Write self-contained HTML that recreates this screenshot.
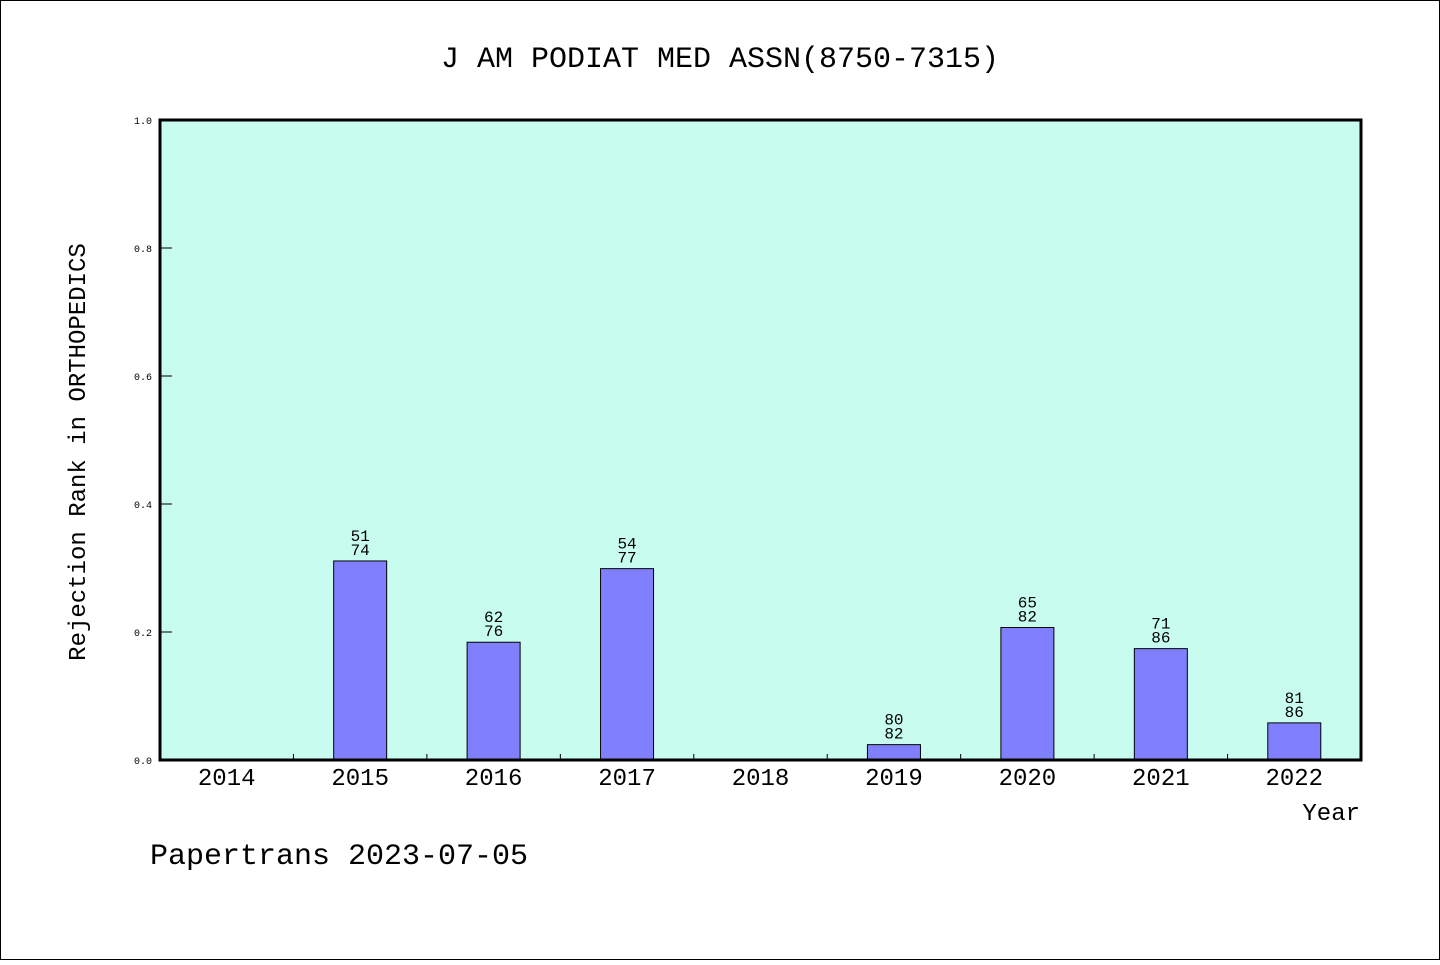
<!DOCTYPE html>
<html><head><meta charset="utf-8"><style>
html,body{margin:0;padding:0;background:#fff}
svg text{font-family:"WenQuanYi Zen Hei","Liberation Mono",monospace;fill:#000}
</style></head><body>
<svg width="1440" height="960" xmlns="http://www.w3.org/2000/svg">
<rect x="0.5" y="0.5" width="1439" height="959" fill="#fff" stroke="#000"/>
<text x="720" y="67" font-size="30" text-anchor="middle">J AM PODIAT MED ASSN(8750-7315)</text>
<rect x="160" y="120" width="1201" height="640" fill="#c8fcee"/>
<g id="g"></g>
<rect x="160" y="120" width="1201" height="640" fill="none" stroke="#000" stroke-width="3"/>
<text transform="translate(85,452) rotate(-90)" font-size="24" text-anchor="middle">Rejection Rank in ORTHOPEDICS</text>
<text x="1360" y="820" font-size="24" text-anchor="end">Year</text>
<text x="150" y="864" font-size="30">Papertrans 2023-07-05</text>
</svg>
<script>
const categories=["2014","2015","2016","2017","2018","2019","2020","2021","2022"];
const values=[null,0.311,0.184,0.299,null,0.024,0.207,0.174,0.058];
const ranks=[null,"51","62","54",null,"80","65","71","81"];
const totals=[null,"74","76","77",null,"82","82","86","86"];
const yTicks=["0.0","0.2","0.4","0.6","0.8","1.0"];
const NS="http://www.w3.org/2000/svg",g=document.getElementById('g');
const x0=160,x1=1361,y0=760,y1=120,bw=(x1-x0)/categories.length;
const y=v=>y0-(v)*(y0-y1);
function mk(t,a,txt){const e=document.createElementNS(NS,t);for(const k in a)e.setAttribute(k,a[k]);if(txt!=null)e.textContent=txt;g.appendChild(e);return e;}
yTicks.forEach(t=>{const yy=y(parseFloat(t));
const l=mk('line',{x1:x0,x2:x0+12,y1:yy,y2:yy,stroke:'#000','stroke-width':1});

const tx=mk('text',{x:x0-8,y:yy+4,'font-size':10,'text-anchor':'end'},t);
});
categories.forEach((c,i)=>{const cx=x0+(i+0.5)*bw;
if(i>0){const l=mk('line',{x1:x0+i*bw,x2:x0+i*bw,y1:y0,y2:y0-6,stroke:'#000'});
}
const t=mk('text',{x:cx,y:785,'font-size':24,'text-anchor':'middle'},c);

if(values[i]!=null){const top=y(values[i]);
const r=mk('rect',{x:cx-26.5,y:top,width:53,height:y0-top,fill:'#8080ff',stroke:'#000','stroke-width':1});

const a=mk('text',{x:cx,y:top-20,'font-size':16,'text-anchor':'middle'},ranks[i]);

const b=mk('text',{x:cx,y:top-6,'font-size':16,'text-anchor':'middle'},totals[i]);
}
});
</script>
</body></html>
